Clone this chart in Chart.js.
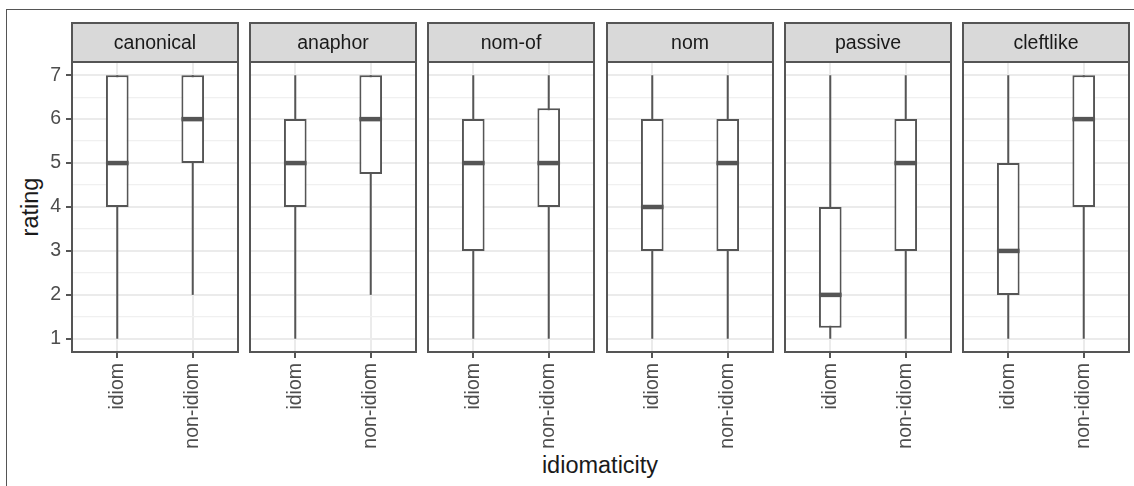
<!DOCTYPE html>
<html>
<head>
<meta charset="utf-8">
<script src="https://cdn.jsdelivr.net/npm/chart.js@4.4.1/dist/chart.umd.min.js"></script>
<style>
  html, body { margin: 0; padding: 0; background: #fff; width: 1134px; height: 486px; overflow: hidden;
    font-family: "Liberation Sans", Arial, sans-serif; }
  #frame { position: absolute; left: 6px; top: 9px; width: 1300px; height: 600px;
    border-top: 1px solid #555; border-left: 1px solid #555; }
  canvas { position: absolute; }
  .axis-title { position: absolute; font-size: 23.5px; line-height: 26px; color: #1a1a1a;
    text-align: center; white-space: nowrap; width: 200px; }
</style>
</head>
<body>
<div id="frame"></div>
<div class="axis-title" style="left:-70px; top:194px; transform: rotate(-90deg);">rating</div>
<div class="axis-title" style="left:500px; top:452px;">idiomaticity</div>
<div id="panels"></div>
<script>
// facets and groups
const facets = ['canonical', 'anaphor', 'nom-of', 'nom', 'passive', 'cleftlike'];
const groups = ['idiom', 'non-idiom'];

// y ticks (major get labels, minor only gridlines)
const yMajor = [1, 2, 3, 4, 5, 6, 7];
const yMinor = [1.5, 2.5, 3.5, 4.5, 5.5, 6.5];

// box stats per facet: [idiom, non-idiom]
const whiskerLow  = [[1, 2], [1, 2], [1, 1], [1, 1], [1, 1], [1, 1]];
const boxLow      = [[4, 5], [4, 4.75], [3, 4], [3, 3], [1.25, 3], [2, 4]];
const medians     = [[5, 6], [5, 6], [5, 5], [4, 5], [2, 5], [3, 6]];
const boxHigh     = [[7, 7], [6, 7], [6, 6.25], [6, 6], [4, 6], [5, 7]];
const whiskerHigh = [[7, 7], [7, 7], [7, 7], [7, 7], [7, 7], [7, 7]];

// layout
const Y_MIN = 0.7, Y_MAX = 7.3, X_MIN = 0.4, X_MAX = 2.6;
const BOX_W = 0.3;
const PANEL_W = 166, PLOT_H = 290, STRIP_H = 39, AXIS_W = 44, XAXIS_H = 100;
const TOP = 22, FIRST_LEFT = 72, PANEL_STEP = 178.2;
const LINE = '#555555', TICK_TEXT = '#4d4d4d', GRID = '#ebebeb', GRID_MINOR = '#f0f0f0';
const FONT = '"Liberation Sans", Arial, sans-serif';

Chart.defaults.font.family = FONT;

const stripAndBorder = {
  id: 'stripAndBorder',
  beforeDraw(chart, args, opts) {
    const { ctx, chartArea: a } = chart;
    ctx.save();
    ctx.fillStyle = '#d9d9d9';
    ctx.fillRect(a.left, a.top - STRIP_H, a.width, STRIP_H);
    ctx.strokeStyle = LINE;
    ctx.lineWidth = 2;
    ctx.strokeRect(a.left, a.top - STRIP_H, a.width, STRIP_H);
    ctx.fillStyle = '#1a1a1a';
    ctx.font = '19.5px ' + FONT;
    ctx.textAlign = 'center';
    ctx.textBaseline = 'middle';
    ctx.fillText(opts.label, (a.left + a.right) / 2, a.top - STRIP_H / 2 + 1);
    ctx.restore();
  },
  afterDraw(chart) {
    const { ctx, chartArea: a } = chart;
    ctx.save();
    ctx.strokeStyle = LINE;
    ctx.lineWidth = 2;
    ctx.strokeRect(a.left, a.top, a.width, a.height);
    ctx.restore();
  }
};

const medianHalfWidth = (ctx) => {
  const s = ctx.chart.scales.x;
  return Math.abs(s.getPixelForValue(1 + BOX_W / 2) - s.getPixelForValue(1));
};

const yTicks = yMajor.concat(yMinor).sort((a, b) => a - b);
const container = document.getElementById('panels');

facets.forEach((facet, i) => {
  const canvas = document.createElement('canvas');
  canvas.width = AXIS_W + PANEL_W + 2;
  canvas.height = 1 + STRIP_H + PLOT_H + XAXIS_H;
  canvas.style.left = (Math.round(FIRST_LEFT + i * PANEL_STEP) - AXIS_W) + 'px';
  canvas.style.top = TOP + 'px';
  container.appendChild(canvas);

  const showY = i === 0;

  new Chart(canvas.getContext('2d'), {
    type: 'bar',
    data: {
      datasets: [
        {
          type: 'line',
          order: 0,
          data: groups.map((g, j) => ({ x: j + 1, y: medians[i][j] })),
          showLine: false,
          pointStyle: 'line',
          pointRadius: medianHalfWidth,
          pointBorderWidth: 4.5,
          pointBorderColor: LINE,
          pointBackgroundColor: LINE
        },
        {
          type: 'bar',
          order: 1,
          data: groups.map((g, j) => ({ x: j + 1, y: [boxLow[i][j], boxHigh[i][j]] })),
          backgroundColor: '#ffffff',
          borderColor: LINE,
          borderWidth: 2,
          borderSkipped: false,
          barPercentage: BOX_W,
          categoryPercentage: 1
        },
        ...groups.map((g, j) => ({
          type: 'line',
          order: 2,
          data: [{ x: j + 1, y: whiskerLow[i][j] }, { x: j + 1, y: whiskerHigh[i][j] }],
          borderColor: LINE,
          borderWidth: 2,
          pointRadius: 0
        }))
      ]
    },
    options: {
      responsive: false,
      animation: false,
      events: [],
      layout: { padding: { top: STRIP_H + 1, right: 2, left: 0, bottom: 0 } },
      plugins: {
        legend: { display: false },
        tooltip: { enabled: false },
        stripAndBorder: { label: facet }
      },
      scales: {
        x: {
          type: 'linear',
          min: X_MIN,
          max: X_MAX,
          offset: false,
          afterBuildTicks: (s) => { s.ticks = groups.map((g, j) => ({ value: j + 1 })); },
          afterFit: (s) => { s.height = XAXIS_H; },
          ticks: {
            callback: (v) => groups[v - 1],
            autoSkip: false,
            minRotation: 90,
            maxRotation: 90,
            padding: 5,
            color: TICK_TEXT,
            font: { size: 19.5 }
          },
          grid: { offset: false, color: GRID, lineWidth: 2, tickLength: 6, tickColor: LINE, tickWidth: 2 },
          border: { display: false }
        },
        y: {
          type: 'linear',
          min: Y_MIN,
          max: Y_MAX,
          beginAtZero: false,
          afterBuildTicks: (s) => { s.ticks = yTicks.map(v => ({ value: v })); },
          afterFit: (s) => { s.width = AXIS_W; },
          ticks: {
            display: showY,
            autoSkip: false,
            callback: (v) => Number.isInteger(v) ? v : '',
            padding: 5,
            color: TICK_TEXT,
            font: { size: 19.5 }
          },
          grid: {
            color: (c) => Number.isInteger(c.tick.value) ? GRID : GRID_MINOR,
            lineWidth: (c) => Number.isInteger(c.tick.value) ? 2 : 1.3,
            tickLength: 6,
            tickWidth: 2,
            tickColor: (c) => (showY && Number.isInteger(c.tick.value)) ? LINE : 'rgba(0,0,0,0)'
          },
          border: { display: false }
        }
      }
    },
    plugins: [stripAndBorder]
  });
});
</script>
</body>
</html>
